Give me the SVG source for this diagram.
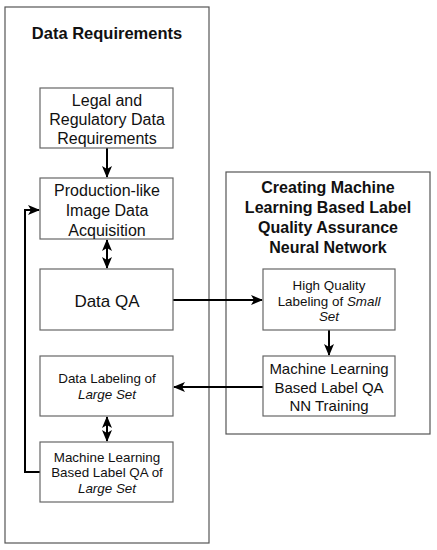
<svg xmlns="http://www.w3.org/2000/svg" width="437" height="550" viewBox="0 0 437 550">
<defs>
<style>
.panel{fill:#fff;stroke:#555;stroke-width:1.2}
.box{fill:#fff;stroke:#666;stroke-width:1.2}
.t{font-family:"Liberation Sans",Arial,sans-serif;fill:#111;text-anchor:middle}
.tb{font-family:"Liberation Sans",Arial,sans-serif;fill:#111;text-anchor:middle;font-weight:bold}
.c{fill:none;stroke:#000;stroke-width:2}
</style>
<marker id="ah" viewBox="0 0 12 10" refX="11" refY="5" markerWidth="12" markerHeight="10" markerUnits="userSpaceOnUse" orient="auto-start-reverse">
<path d="M0,0 L12,5 L0,10 L3,5 Z" fill="#000"/>
</marker>
</defs>
<rect width="437" height="550" fill="#fff"/>
<g id="panel-left">
<rect class="panel" x="5" y="7" width="204" height="536"/>
<text class="tb" x="107" y="39" font-size="16.5">Data Requirements</text>
</g>
<g id="panel-right">
<rect class="panel" x="226" y="172" width="204" height="262"/>
<text class="tb" font-size="16"><tspan x="328" y="193">Creating Machine</tspan><tspan x="328" y="213">Learning Based Label</tspan><tspan x="328" y="233">Quality Assurance</tspan><tspan x="328" y="253">Neural Network</tspan></text>
</g>
<g id="connectors">
<line class="c" x1="107" y1="148" x2="107" y2="177" marker-end="url(#ah)"/>
<line class="c" x1="107" y1="240" x2="107" y2="268" marker-start="url(#ah)" marker-end="url(#ah)"/>
<line class="c" x1="107" y1="417" x2="107" y2="441" marker-start="url(#ah)" marker-end="url(#ah)"/>
<polyline class="c" points="40,472 25,472 25,210 39,210" marker-end="url(#ah)"/>
<line class="c" x1="173" y1="300" x2="262" y2="300" marker-end="url(#ah)"/>
<line class="c" x1="329" y1="330" x2="329" y2="355" marker-end="url(#ah)"/>
<line class="c" x1="263" y1="387" x2="174" y2="387" marker-end="url(#ah)"/>
</g>
<g id="legal">
<rect class="box" x="40" y="88" width="133" height="60"/>
<text class="t" font-size="16"><tspan x="107" y="106">Legal and</tspan><tspan x="107" y="125">Regulatory Data</tspan><tspan x="107" y="144">Requirements</tspan></text>
</g>
<g id="acquisition">
<rect class="box" x="40" y="178" width="133" height="61"/>
<text class="t" font-size="16"><tspan x="107" y="196">Production-like</tspan><tspan x="107" y="216">Image Data</tspan><tspan x="107" y="236">Acquisition</tspan></text>
</g>
<g id="data-qa">
<rect class="box" x="40" y="269" width="133" height="61"/>
<text class="t" font-size="17" x="107" y="307">Data QA</text>
</g>
<g id="labeling-large">
<rect class="box" x="40" y="356" width="133" height="60"/>
<text class="t" font-size="13.4"><tspan x="107" y="383">Data Labeling of</tspan><tspan x="107" y="399" font-style="italic">Large Set</tspan></text>
</g>
<g id="ml-qa-large">
<rect class="box" x="40" y="442" width="133" height="60"/>
<text class="t" font-size="13.4"><tspan x="107" y="462">Machine Learning</tspan><tspan x="107" y="477">Based Label QA of</tspan><tspan x="107" y="493" font-style="italic">Large Set</tspan></text>
</g>
<g id="hq-small">
<rect class="box" x="263" y="269" width="132" height="61"/>
<text class="t" font-size="13.4"><tspan x="329" y="290">High Quality</tspan><tspan x="329" y="306">Labeling of <tspan font-style="italic">Small</tspan></tspan><tspan x="329" y="321" font-style="italic">Set</tspan></text>
</g>
<g id="nn-training">
<rect class="box" x="263" y="356" width="132" height="60"/>
<text class="t" font-size="15"><tspan x="329" y="374">Machine Learning</tspan><tspan x="329" y="393">Based Label QA</tspan><tspan x="329" y="411">NN Training</tspan></text>
</g>
</svg>
